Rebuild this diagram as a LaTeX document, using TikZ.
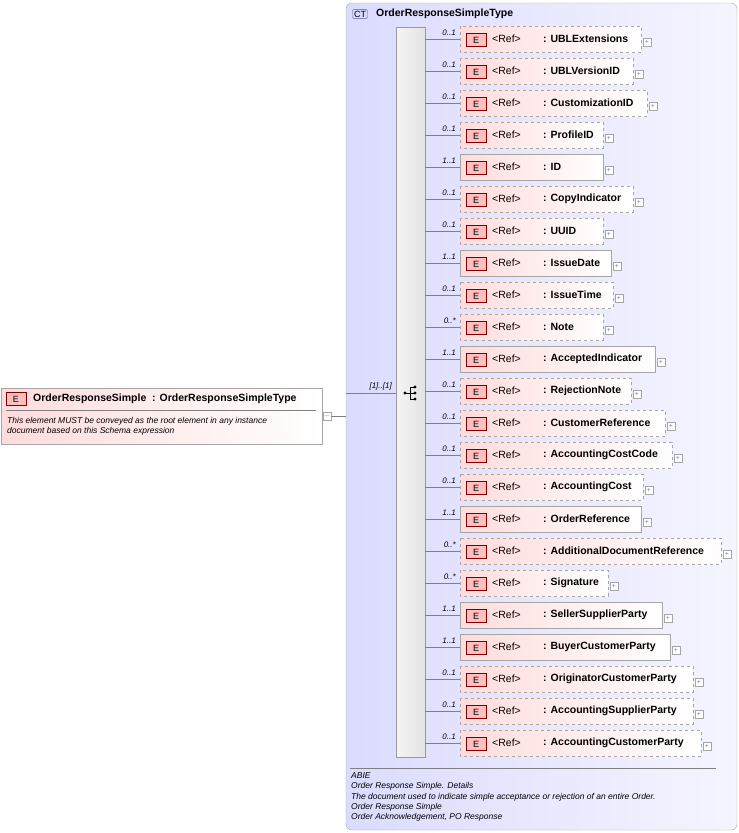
\documentclass[tikz,border=0pt]{standalone}
\usepackage{fontspec}
\setmainfont{Liberation Sans}
\begin{document}
\begin{tikzpicture}[x=1pt,y=-1pt,
  elem/.style={draw=#1,left color=red!14,right color=white,line width=0.6pt},
  badge/.style={draw=red!50!black,fill=red!25,minimum width=20pt,minimum height=13pt,inner sep=0pt,font=\fontsize{9}{9}\selectfont},
  mult/.style={font=\itshape\fontsize{8}{8}\selectfont,anchor=south east,inner sep=1pt},
  ptxt/.style={font=\fontsize{10.5}{10.5}\selectfont,anchor=west,inner sep=0pt},
  btxt/.style={font=\bfseries\fontsize{10.5}{10.5}\selectfont,anchor=west,inner sep=0pt},
  note/.style={font=\itshape\fontsize{8.5}{9}\selectfont,anchor=west,inner sep=0pt},
  plusbox/.style={draw=gray!70,fill=white,minimum size=8pt,inner sep=0pt,font=\fontsize{7}{7}\selectfont,text=gray}]
\useasboundingbox (0,0) rectangle (739,833);
% CT box
\draw[gray!70,left color=blue!14,right color=blue!4,rounded corners=6pt] (346,3) rectangle (737,830);
\node[draw=gray!70!blue,fill=blue!15,rounded corners=2pt,inner sep=1.5pt,font=\fontsize{9}{9}\selectfont] (ct) at (360,14) {CT};
\node[btxt] (cttitle) at (376,14) {OrderResponseSimpleType};
% sequence bar
\draw[gray!80,left color=gray!8,right color=gray!22] (396,27) rectangle (425,757);
\node[circle,fill=black,inner sep=1.2pt] (comp) at (405,393) {};
\coordinate (seqin) at (396,393);
% root element
\draw[elem=gray!70] (1,388) rectangle (322,444);
\draw[gray] (6,410) -- (316,410);
\node[badge] (rb) at (16,399) {E};
\node[btxt] (rname) at (33,399) {OrderResponseSimple\ \ : OrderResponseSimpleType};
\node[note] (rnote) at (7,421) {This element MUST be conveyed as the root element in any instance};
\node[note] (rnote2) at (7,431) {document based on this Schema expression};
\node[plusbox] (minus) at (327,416) {$-$};
\coordinate (ctin) at (346,416);
\draw[gray] (minus) -- (ctin);
\draw[gray] (346,393) -- (seqin);
\node[mult] (m0) at (393,391) {[1]..[1]};
% compositor icon
\draw[black,line width=0.8pt] (405,393) -- (410,393) (410,387) -- (410,399) (410,387) -- (414,387) (410,393) -- (414,393) (410,399) -- (414,399);
\foreach \yy in {387,393,399} \fill (415,\yy) circle (1.6pt);
% children
\foreach [count=\i from 0] \name/\r/\m/\d in {
 UBLExtensions/641/0..1/1, UBLVersionID/633/0..1/1, CustomizationID/647/0..1/1,
 ProfileID/603/0..1/1, ID/603/1..1/0, CopyIndicator/633/0..1/1, UUID/603/0..1/1,
 IssueDate/611/1..1/0, IssueTime/613/0..1/1, Note/603/0..*/1, AcceptedIndicator/655/1..1/0,
 RejectionNote/631/0..1/1, CustomerReference/665/0..1/1, AccountingCostCode/672/0..1/1,
 AccountingCost/643/0..1/1, OrderReference/641/1..1/0, AdditionalDocumentReference/721/0..*/1,
 Signature/608/0..*/1, SellerSupplierParty/662/1..1/0, BuyerCustomerParty/670/1..1/0,
 OriginatorCustomerParty/693/0..1/1, AccountingSupplierParty/693/0..1/1, AccountingCustomerParty/701/0..1/1}{
  \pgfmathsetmacro{\yc}{39+32*\i}
  \ifnum\d=1
    \draw[elem=gray!70,dashed] (460,\yc-13) rectangle (\r,\yc+13);
  \else
    \draw[elem=gray!70] (460,\yc-13) rectangle (\r,\yc+13);
  \fi
  \node[badge] (b\i) at (476,\yc+1) {E};
  \node[ptxt] (ref\i) at (492,\yc) {<Ref>};
  \node[btxt] (n\i) at (543,\yc) {: \name};
  \node[plusbox] (p\i) at (\r+6,\yc+3) {+};
  \coordinate (c\i) at (460,\yc);
  \coordinate (s\i) at (425,\yc);
  \draw[gray] (s\i) -- (c\i);
  \node[mult] (m\i) at (457,\yc-2) {\m};
}
% annotation
\draw[gray] (350,768) -- (716,768);
\node[note] (a1) at (351,776) {ABIE};
\node[note] (a2) at (351,786.5) {Order Response Simple. Details};
\node[note] (a3) at (351,797) {The document used to indicate simple acceptance or rejection of an entire Order.};
\node[note] (a4) at (351,807) {Order Response Simple};
\node[note] (a5) at (351,817.5) {Order Acknowledgement, PO Response};
\end{tikzpicture}
\end{document}
